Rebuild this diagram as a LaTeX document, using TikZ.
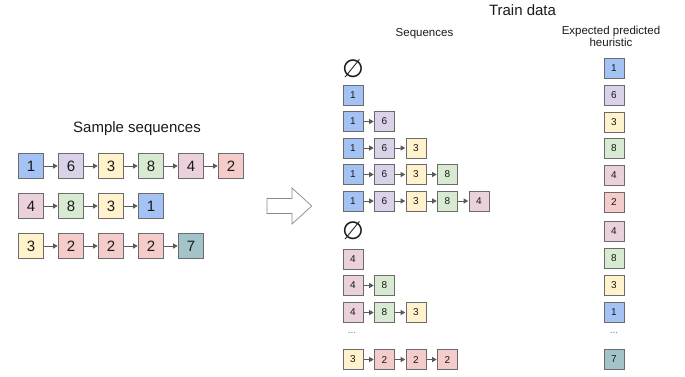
\documentclass[tikz,border=0pt]{standalone}
\usepackage{fontspec}
\setmainfont{Liberation Sans}
\newfontfamily\symfont{DejaVu Sans}
\usetikzlibrary{arrows.meta}
\definecolor{c1}{HTML}{A4C2F4}
\definecolor{c6}{HTML}{D9D2E9}
\definecolor{c3}{HTML}{FFF2CC}
\definecolor{c8}{HTML}{D9EAD3}
\definecolor{c4}{HTML}{EAD1DC}
\definecolor{c2}{HTML}{F4CCCC}
\definecolor{c7}{HTML}{A2C4C9}
\definecolor{boxgray}{HTML}{6B6B6B}
\definecolor{arrgray}{HTML}{595959}
\definecolor{txt}{HTML}{1A1A1A}
\tikzset{
  bigbox/.style={draw=boxgray, line width=1.1pt, minimum size=25pt, inner sep=0pt, text=txt, font=\fontsize{15}{15}\selectfont},
  smallbox/.style={draw=boxgray, line width=1pt, minimum size=20pt, inner sep=0pt, text=txt, font=\fontsize{10}{10}\selectfont},
  link/.style={draw=arrgray, line width=0.8pt, -{Triangle[length=4.5pt,width=5pt]}, shorten >=0.3pt},
  title/.style={text=txt, font=\fontsize{15}{15}\selectfont, inner sep=0pt},
  subtitle/.style={text=txt, font=\fontsize{11.5}{12.5}\selectfont, inner sep=0pt, align=center},
  nullset/.style={text=txt, font=\symfont\fontsize{25}{25}\selectfont, inner sep=0pt},
  dots/.style={text=txt!60, font=\fontsize{10}{10}\selectfont, inner sep=0pt},
}
\begin{document}
\begin{tikzpicture}[x=1pt,y=-1pt]
\useasboundingbox (0,0) rectangle (685,376);
% titles
\node[title] (ts) at (137,129) {Sample sequences};
\node[title] (td) at (522.5,10) {Train data};
\node[subtitle] (tseq) at (424.5,34) {Sequences};
\node[subtitle] (texp) at (611,36.5) {Expected predicted\\heuristic};
% left sample sequences
\foreach \r/\y/\seq in {a/166/{1,6,3,8,4,2}, b/206/{4,8,3,1}, c/246/{3,2,2,2,7}}{
  \foreach \d [count=\k] in \seq {
    \node[bigbox, fill=c\d] (L\r\k) at ({31+40*(\k-1)},\y) {\d};
    \ifnum\k>1
      \pgfmathtruncatemacro\p{\k-1}
      \draw[link] (L\r\p) -- (L\r\k);
    \fi
  }
}
% big arrow
\draw[draw=boxgray!80, line width=0.7pt, fill=white]
  (267,198.5) -- (292,198.5) -- (292,188) -- (311.7,206) -- (292,224) -- (292,213.5) -- (267,213.5) -- cycle;
% right sequences
\node[nullset] (n1) at (353,69) {∅};
\node[nullset] (n2) at (353,231) {∅};
\foreach \r/\y/\seq in {a/95/{1}, b/121.5/{1,6}, c/148/{1,6,3}, d/174.5/{1,6,3,8}, e/201/{1,6,3,8,4},
                        f/259/{4}, g/285.5/{4,8}, h/312.5/{4,8,3}, i/359.5/{3,2,2,2}}{
  \foreach \d [count=\k] in \seq {
    \node[smallbox, fill=c\d] (R\r\k) at ({353+31.5*(\k-1)},\y) {\d};
    \ifnum\k>1
      \pgfmathtruncatemacro\p{\k-1}
      \draw[link] (R\r\p) -- (R\r\k);
    \fi
  }
}
\node[dots] (d1) at (352,333) {...};
% expected predicted heuristic
\foreach \d/\y [count=\k] in {1/68.5, 6/95, 3/122, 8/148, 4/175, 2/202, 4/231, 8/258, 3/285, 1/312, 7/359}{
  \node[smallbox, fill=c\d] (P\k) at (614,\y) {\d};
}
\node[dots] (d2) at (614,333) {...};
\end{tikzpicture}
\end{document}
